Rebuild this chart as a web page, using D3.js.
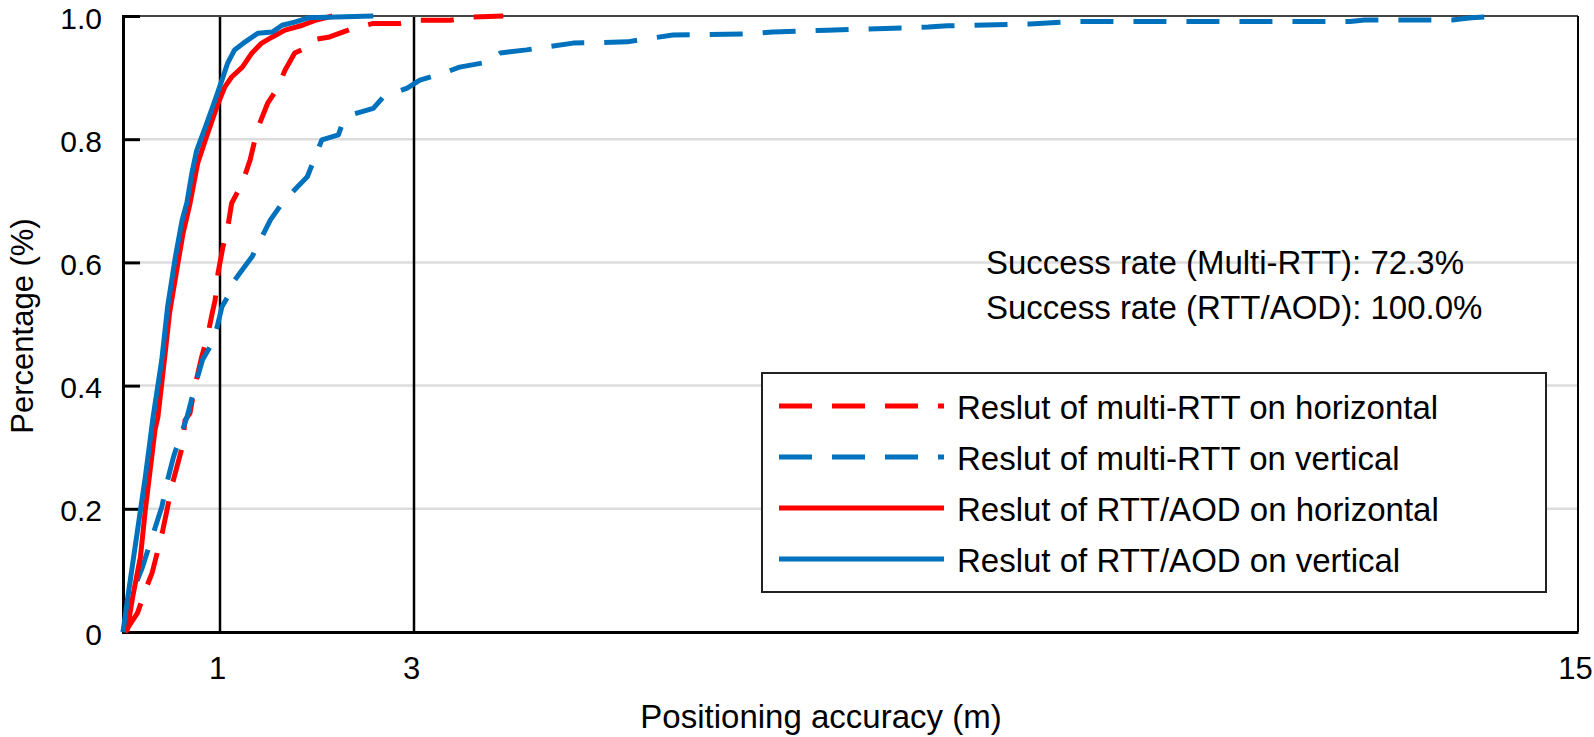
<!DOCTYPE html>
<html>
<head>
<meta charset="utf-8">
<script src="https://cdn.jsdelivr.net/npm/d3@7"></script>
<style>
  body { margin: 0; background: #fff; }
  svg text { font-family: "Liberation Sans", Arial, sans-serif; fill: #000; }
</style>
</head>
<body>
<svg id="chart" width="1594" height="737"></svg>
<script>
// CDF points [error in m, cumulative fraction]
const multiRttHorizontal = [
  [0.02, 0], [0.15, 0.031], [0.23, 0.068], [0.3, 0.096], [0.36, 0.133], [0.41, 0.165],
  [0.46, 0.203], [0.5, 0.235], [0.61, 0.3], [0.64, 0.344], [0.69, 0.355], [0.74, 0.398],
  [0.81, 0.446], [0.87, 0.479], [0.92, 0.518], [0.95, 0.539], [0.98, 0.583], [1.03, 0.625],
  [1.08, 0.657], [1.12, 0.696], [1.23, 0.729], [1.31, 0.766], [1.36, 0.799], [1.41, 0.826],
  [1.49, 0.858], [1.6, 0.885], [1.67, 0.912], [1.77, 0.94], [1.91, 0.95], [1.98, 0.962],
  [2.13, 0.966], [2.37, 0.98], [2.58, 0.988], [2.86, 0.988], [3.06, 0.993], [3.37, 0.993],
  [3.58, 0.998], [3.92, 1.0]
];
const multiRttVertical = [
  [0, 0], [0.12, 0.073], [0.2, 0.105], [0.3, 0.154], [0.4, 0.203], [0.46, 0.247],
  [0.52, 0.284], [0.59, 0.317], [0.66, 0.349], [0.76, 0.409], [0.82, 0.442], [0.92, 0.469],
  [0.97, 0.495], [1.02, 0.528], [1.1, 0.55], [1.15, 0.571], [1.23, 0.588], [1.33, 0.609],
  [1.43, 0.641], [1.52, 0.669], [1.64, 0.696], [1.77, 0.718], [1.9, 0.739], [1.98, 0.771],
  [2.05, 0.799], [2.22, 0.807], [2.25, 0.82], [2.34, 0.839], [2.58, 0.85], [2.68, 0.868],
  [2.93, 0.883], [3.06, 0.896], [3.3, 0.907], [3.47, 0.917], [3.75, 0.925], [3.89, 0.94],
  [4.16, 0.945], [4.37, 0.95], [4.64, 0.956], [5.2, 0.958], [5.4, 0.963], [5.67, 0.969],
  [6.43, 0.971], [6.7, 0.974], [7.26, 0.977], [8.3, 0.982], [8.5, 0.984], [9.35, 0.987],
  [9.8, 0.991], [12.65, 0.991], [12.8, 0.9935], [13.7, 0.9935], [13.9, 0.997], [14.1, 0.999]
];
const rttAodHorizontal = [
  [0.04, 0], [0.1, 0.057], [0.18, 0.122], [0.23, 0.198], [0.28, 0.263], [0.33, 0.328],
  [0.36, 0.349], [0.43, 0.446], [0.48, 0.518], [0.56, 0.593], [0.62, 0.648], [0.69, 0.695],
  [0.77, 0.761], [0.85, 0.799], [0.92, 0.831], [0.98, 0.858], [1.05, 0.885], [1.12, 0.901],
  [1.23, 0.917], [1.33, 0.94], [1.43, 0.956], [1.54, 0.966], [1.67, 0.977], [1.85, 0.985],
  [1.98, 0.993], [2.16, 1.0]
];
const rttAodVertical = [
  [0, 0], [0.05, 0.057], [0.12, 0.133], [0.18, 0.198], [0.23, 0.252], [0.28, 0.312],
  [0.31, 0.349], [0.4, 0.442], [0.46, 0.528], [0.54, 0.609], [0.61, 0.669], [0.66, 0.698],
  [0.71, 0.745], [0.76, 0.782], [0.85, 0.82], [0.95, 0.864], [1.02, 0.896], [1.08, 0.924],
  [1.15, 0.945], [1.26, 0.958], [1.39, 0.972], [1.54, 0.974], [1.64, 0.985], [1.77, 0.99],
  [1.91, 0.997], [2.58, 1.0]
];

const seriesNames = [
  "Reslut of multi-RTT on horizontal",
  "Reslut of multi-RTT on vertical",
  "Reslut of RTT/AOD on horizontal",
  "Reslut of RTT/AOD on vertical"
];
const xTickValues = [1, 3, 15];
const xTickLabels = ["1", "3", "15"];
const yTickValues = [0, 0.2, 0.4, 0.6, 0.8, 1.0];
const yTickLabels = ["0", "0.2", "0.4", "0.6", "0.8", "1.0"];
const refLines = [1, 3];
const notes = ["Success rate (Multi-RTT): 72.3%", "Success rate (RTT/AOD): 100.0%"];

const RED = "#ff0000";
const BLUE = "#0072bd";
const DASH = "33,20";

function drawChart()
{
  const svg = d3.select("#chart");
  const left = 123, right = 1578, top = 16, bottom = 632;

  const x = d3.scaleLinear().domain([0, 15]).range([left, right]);
  const y = d3.scaleLinear().domain([0, 1]).range([bottom, top]);

  // grid
  svg.append("g")
    .selectAll("line")
    .data(yTickValues.filter((v) => v > 0 && v < 1))
    .join("line")
    .attr("x1", left + 17)
    .attr("x2", right)
    .attr("y1", (d) => y(d))
    .attr("y2", (d) => y(d))
    .attr("stroke", "#dcdcdc")
    .attr("stroke-width", 2.5);

  // reference lines at 1 m and 3 m
  svg.append("g")
    .selectAll("line")
    .data(refLines)
    .join("line")
    .attr("x1", (d) => x(d))
    .attr("x2", (d) => x(d))
    .attr("y1", top)
    .attr("y2", bottom)
    .attr("stroke", "#000")
    .attr("stroke-width", 2.5);

  // frame
  svg.append("line").attr("x1", left).attr("x2", right).attr("y1", top).attr("y2", top)
    .attr("stroke", "#444").attr("stroke-width", 2);
  svg.append("line").attr("x1", right).attr("x2", right).attr("y1", top).attr("y2", bottom)
    .attr("stroke", "#000").attr("stroke-width", 2);

  // y axis: inward ticks
  const yAxis = d3.axisLeft(y)
    .tickValues(yTickValues)
    .tickSize(-17)
    .tickPadding(21)
    .tickFormat((d, i) => yTickLabels[i]);
  const yG = svg.append("g").attr("transform", `translate(${ left },0)`).call(yAxis);
  yG.select(".domain").attr("stroke", "#000").attr("stroke-width", 3);
  yG.selectAll(".tick line").attr("stroke", "#000").attr("stroke-width", 3);
  yG.selectAll(".tick text")
    .attr("font-size", 30)
    .attr("font-family", "Liberation Sans, Arial, sans-serif")
    .attr("dy", "0.4em");

  // x axis: labels only
  const xAxis = d3.axisBottom(x)
    .tickValues(xTickValues)
    .tickSize(0)
    .tickPadding(25)
    .tickFormat((d, i) => xTickLabels[i]);
  const xG = svg.append("g").attr("transform", `translate(0,${ bottom })`).call(xAxis);
  xG.select(".domain").attr("stroke", "#000").attr("stroke-width", 3);
  xG.selectAll(".tick text")
    .attr("font-size", 31)
    .attr("font-family", "Liberation Sans, Arial, sans-serif")
    .attr("dx", -3)
    .attr("dy", "0.71em");

  // curves
  const line = d3.line().x((d) => x(d[0])).y((d) => y(d[1]));
  const series = [
    { data: multiRttHorizontal, color: RED, dash: DASH },
    { data: multiRttVertical, color: BLUE, dash: DASH },
    { data: rttAodHorizontal, color: RED, dash: null },
    { data: rttAodVertical, color: BLUE, dash: null }
  ];
  series.forEach((s) =>
  {
    svg.append("path")
      .datum(s.data)
      .attr("d", line)
      .attr("fill", "none")
      .attr("stroke", s.color)
      .attr("stroke-width", 5)
      .attr("stroke-linejoin", "round")
      .attr("stroke-dasharray", s.dash);
  });

  // annotations
  svg.append("g")
    .selectAll("text")
    .data(notes)
    .join("text")
    .attr("x", 986)
    .attr("y", (d, i) => 274 + i * 45)
    .attr("font-size", 33)
    .text((d) => d);

  // legend
  const legend = svg.append("g");
  legend.append("rect")
    .attr("x", 762).attr("y", 373)
    .attr("width", 784).attr("height", 219)
    .attr("fill", "#fff")
    .attr("stroke", "#222")
    .attr("stroke-width", 2);
  series.forEach((s, i) =>
  {
    const ly = 406 + i * 51;
    legend.append("line")
      .attr("x1", 779).attr("x2", 944)
      .attr("y1", ly).attr("y2", ly)
      .attr("stroke", s.color)
      .attr("stroke-width", 5)
      .attr("stroke-dasharray", s.dash);
    legend.append("text")
      .attr("x", 957)
      .attr("y", ly + 13)
      .attr("font-size", 33)
      .text(seriesNames[i]);
  });

  // axis titles
  svg.append("text")
    .attr("x", 821)
    .attr("y", 728)
    .attr("text-anchor", "middle")
    .attr("font-size", 33)
    .text("Positioning accuracy (m)");
  svg.append("text")
    .attr("transform", "translate(33,326) rotate(-90)")
    .attr("text-anchor", "middle")
    .attr("font-size", 31)
    .text("Percentage (%)");
}

drawChart();
</script>
</body>
</html>
